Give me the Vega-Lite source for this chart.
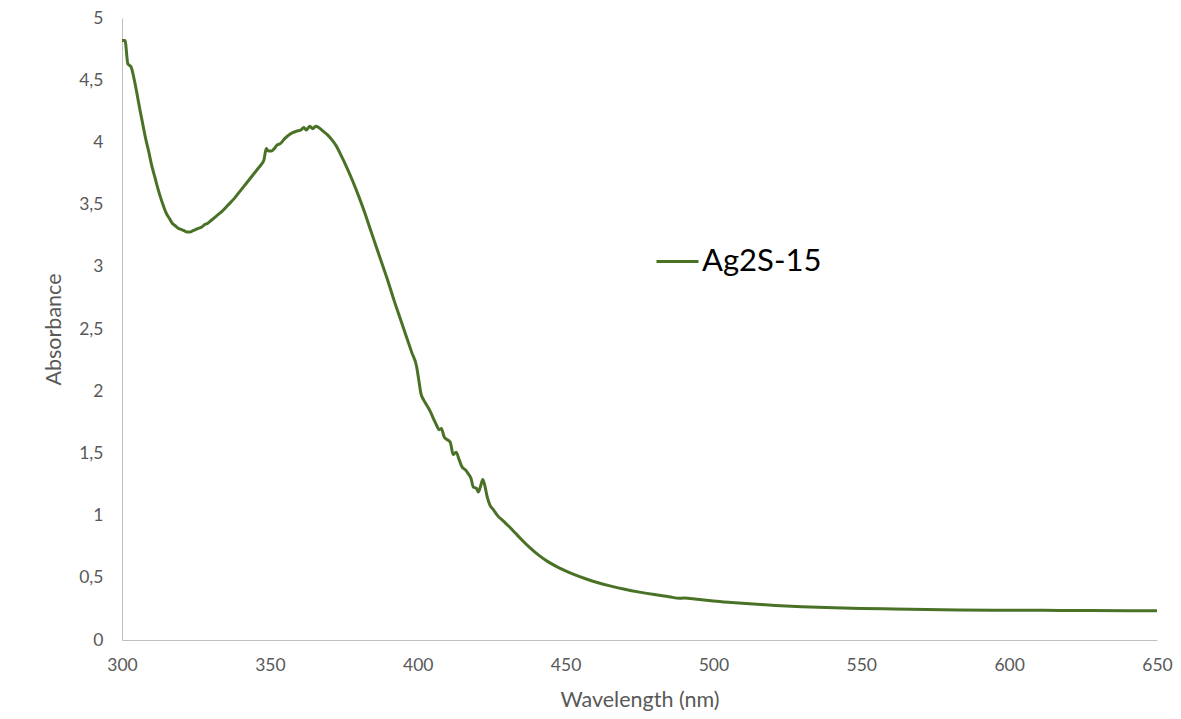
{
  "$schema": "https://vega.github.io/schema/vega-lite/v6.json",
  "width": 1035,
  "height": 622,
  "autosize": {"type": "none"},
  "padding": {"left": 122, "top": 18, "right": 24, "bottom": 79},
  "background": "white",
  "config": {
    "view": {"stroke": null},
    "font": "Lato",
    "axis": {
      "domainColor": "#bfbfbf",
      "domainWidth": 1,
      "ticks": false,
      "grid": false,
      "labelColor": "#595959",
      "labelFont": "Lato",
      "labelFontSize": 17.5,
      "titleColor": "#595959",
      "titleFont": "Lato",
      "titleFontSize": 21.5,
      "titleFontWeight": "normal"
    }
  },
  "data": {
    "values": [
      {"wl": 300, "abs": 4.82}, {"wl": 301, "abs": 4.82}, {"wl": 302, "abs": 4.63}, {"wl": 303, "abs": 4.61},
      {"wl": 304, "abs": 4.52}, {"wl": 305, "abs": 4.40}, {"wl": 306, "abs": 4.27}, {"wl": 307, "abs": 4.15},
      {"wl": 308, "abs": 4.03}, {"wl": 309, "abs": 3.93}, {"wl": 310, "abs": 3.82}, {"wl": 311, "abs": 3.73},
      {"wl": 312, "abs": 3.64}, {"wl": 313, "abs": 3.56}, {"wl": 314, "abs": 3.49}, {"wl": 315, "abs": 3.43},
      {"wl": 316, "abs": 3.39}, {"wl": 317, "abs": 3.35}, {"wl": 318, "abs": 3.33}, {"wl": 319, "abs": 3.31},
      {"wl": 320, "abs": 3.30}, {"wl": 321, "abs": 3.29}, {"wl": 322, "abs": 3.28}, {"wl": 323, "abs": 3.28},
      {"wl": 324, "abs": 3.29}, {"wl": 325, "abs": 3.30}, {"wl": 326, "abs": 3.31}, {"wl": 327, "abs": 3.32},
      {"wl": 328, "abs": 3.34}, {"wl": 329, "abs": 3.35}, {"wl": 330, "abs": 3.37}, {"wl": 332, "abs": 3.41},
      {"wl": 334, "abs": 3.45}, {"wl": 336, "abs": 3.50}, {"wl": 338, "abs": 3.55}, {"wl": 340, "abs": 3.61},
      {"wl": 342, "abs": 3.67}, {"wl": 344, "abs": 3.73}, {"wl": 346, "abs": 3.79}, {"wl": 347, "abs": 3.82},
      {"wl": 348, "abs": 3.86}, {"wl": 348.8, "abs": 3.95}, {"wl": 349.5, "abs": 3.93}, {"wl": 350.5, "abs": 3.93},
      {"wl": 351.5, "abs": 3.95}, {"wl": 352.5, "abs": 3.98}, {"wl": 353.5, "abs": 3.99}, {"wl": 355, "abs": 4.03},
      {"wl": 357, "abs": 4.07}, {"wl": 359, "abs": 4.09}, {"wl": 360.5, "abs": 4.10}, {"wl": 361.5, "abs": 4.12},
      {"wl": 362.3, "abs": 4.10}, {"wl": 363.5, "abs": 4.13}, {"wl": 364.5, "abs": 4.11}, {"wl": 365.5, "abs": 4.13},
      {"wl": 366.5, "abs": 4.12}, {"wl": 368, "abs": 4.09}, {"wl": 369.5, "abs": 4.06}, {"wl": 371, "abs": 4.02},
      {"wl": 372.5, "abs": 3.97}, {"wl": 374, "abs": 3.90}, {"wl": 376, "abs": 3.80}, {"wl": 378, "abs": 3.69},
      {"wl": 380, "abs": 3.57}, {"wl": 382, "abs": 3.44}, {"wl": 384, "abs": 3.30}, {"wl": 386, "abs": 3.16},
      {"wl": 388, "abs": 3.02}, {"wl": 390, "abs": 2.88}, {"wl": 392, "abs": 2.73}, {"wl": 394, "abs": 2.59},
      {"wl": 396, "abs": 2.45}, {"wl": 398, "abs": 2.31}, {"wl": 399.6, "abs": 2.20}, {"wl": 400.3, "abs": 2.10},
      {"wl": 401.1, "abs": 1.98}, {"wl": 402, "abs": 1.93}, {"wl": 403, "abs": 1.89}, {"wl": 404.2, "abs": 1.84},
      {"wl": 405.5, "abs": 1.77}, {"wl": 406.5, "abs": 1.72}, {"wl": 407.2, "abs": 1.69}, {"wl": 408, "abs": 1.70},
      {"wl": 409, "abs": 1.63}, {"wl": 410, "abs": 1.61}, {"wl": 411, "abs": 1.59}, {"wl": 412, "abs": 1.49},
      {"wl": 413, "abs": 1.51}, {"wl": 414, "abs": 1.45}, {"wl": 415, "abs": 1.39}, {"wl": 416, "abs": 1.37},
      {"wl": 417, "abs": 1.34}, {"wl": 418, "abs": 1.30}, {"wl": 418.8, "abs": 1.23}, {"wl": 419.8, "abs": 1.22},
      {"wl": 420.5, "abs": 1.19}, {"wl": 421.3, "abs": 1.24}, {"wl": 422, "abs": 1.29}, {"wl": 422.7, "abs": 1.24},
      {"wl": 423.5, "abs": 1.15}, {"wl": 424.5, "abs": 1.08}, {"wl": 425.5, "abs": 1.05}, {"wl": 427, "abs": 1.00},
      {"wl": 429, "abs": 0.955}, {"wl": 431, "abs": 0.91}, {"wl": 433, "abs": 0.86}, {"wl": 435, "abs": 0.81},
      {"wl": 438, "abs": 0.74}, {"wl": 441, "abs": 0.68}, {"wl": 444, "abs": 0.63}, {"wl": 447, "abs": 0.59},
      {"wl": 450, "abs": 0.555}, {"wl": 453, "abs": 0.525}, {"wl": 457, "abs": 0.49}, {"wl": 461, "abs": 0.46},
      {"wl": 465, "abs": 0.435}, {"wl": 470, "abs": 0.408}, {"wl": 475, "abs": 0.385}, {"wl": 480, "abs": 0.365},
      {"wl": 485, "abs": 0.348}, {"wl": 488.5, "abs": 0.335}, {"wl": 490, "abs": 0.338}, {"wl": 492, "abs": 0.334},
      {"wl": 496, "abs": 0.323}, {"wl": 500, "abs": 0.313}, {"wl": 505, "abs": 0.303}, {"wl": 511, "abs": 0.293},
      {"wl": 516, "abs": 0.285}, {"wl": 521, "abs": 0.278}, {"wl": 530, "abs": 0.268}, {"wl": 538, "abs": 0.261},
      {"wl": 550, "abs": 0.254}, {"wl": 561, "abs": 0.249}, {"wl": 572, "abs": 0.245}, {"wl": 583, "abs": 0.242},
      {"wl": 595, "abs": 0.240}, {"wl": 606, "abs": 0.239}, {"wl": 617, "abs": 0.238}, {"wl": 628, "abs": 0.237},
      {"wl": 640, "abs": 0.236}, {"wl": 650, "abs": 0.236}
    ]
  },
  "transform": [{"calculate": "'Ag2S-15'", "as": "series"}],
  "mark": {"type": "line", "strokeWidth": 3, "interpolate": "monotone"},
  "encoding": {
    "x": {
      "field": "wl",
      "type": "quantitative",
      "scale": {"domain": [300, 650], "nice": false},
      "axis": {"values": [300, 350, 400, 450, 500, 550, 600, 650], "title": "Wavelength (nm)", "labelPadding": 16, "titlePadding": 16, "labelFlush": false}
    },
    "y": {
      "field": "abs",
      "type": "quantitative",
      "scale": {"domain": [0, 5], "nice": false},
      "axis": {
        "values": [0, 0.5, 1, 1.5, 2, 2.5, 3, 3.5, 4, 4.5, 5],
        "labelExpr": "replace(format(datum.value, '~g'), '.', ',')",
        "title": "Absorbance",
        "labelPadding": 19,
        "titlePadding": 13,
        "labelFlush": false
      }
    },
    "color": {
      "field": "series",
      "type": "nominal",
      "scale": {"range": ["#4a7227"]},
      "legend": {
        "title": null,
        "orient": "none",
        "legendX": 533,
        "legendY": 221,
        "symbolType": "stroke",
        "symbolSize": 1764,
        "symbolStrokeWidth": 3,
        "labelFontSize": 31,
        "labelFont": "Lato",
        "labelColor": "#000000",
        "labelOffset": 2
      }
    }
  }
}
